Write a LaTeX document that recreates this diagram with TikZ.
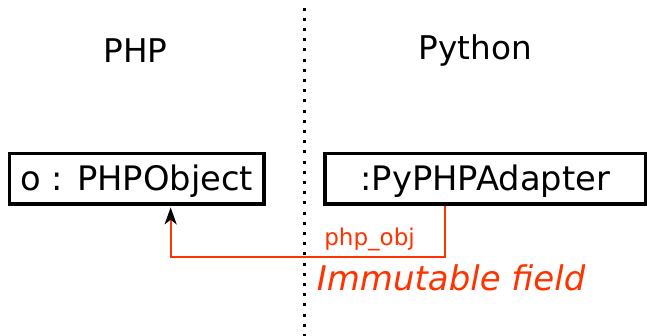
\documentclass[tikz,border=0pt]{standalone}
\usepackage{fontspec}
\setmainfont{DejaVu Sans}
\usetikzlibrary{arrows.meta}
\definecolor{fieldred}{RGB}{255,51,0}
\tikzset{
  objbox/.style={draw=black, line width=2.6pt, inner sep=0pt, minimum height=37.9pt,
    font=\fontsize{25.3}{30}\selectfont, text height=21.5pt, text depth=3.4pt},
  title/.style={font=\fontsize{24.5}{30}\selectfont, anchor=base, inner sep=0pt},
  sep/.style={line width=2.25pt, dash pattern=on 2.25pt off 5.4pt},
  conn/.style={draw=fieldred, line width=1.6pt,
    -{Stealth[black, length=12.75pt, width=9pt, inset=3.5pt]}},
  fieldlbl/.style={text=fieldred, inner sep=0pt, anchor=base west},
}
\begin{document}
\begin{tikzpicture}[x=0.75pt, y=-0.75pt]
\useasboundingbox (0,0) rectangle (647,336);
\coordinate (septop) at (304.3,7.5);
\coordinate (sepbot) at (304.3,336);
\draw[sep] (septop) -- (sepbot);
\node[title] (php) at (135.5,62) {PHP};
\node[title] (python) at (475.5,59) {Python};
\node[objbox, minimum width=191pt] (obj) at (136.65,178.75) {o : PHPObject};
\node[objbox, minimum width=240.4pt] (ad) at (485.25,178.75) {:PyPHPAdapter};
\draw[conn, shorten >=1.2pt] ([xshift=-30.4pt]ad.south) -- ++(0,51) -| ([xshift=25.5pt]obj.south);
\node[fieldlbl, font=\fontsize{17.3}{20}\selectfont] (fname) at (324,245.5) {php\_obj};
\node[fieldlbl, font=\fontsize{25.5}{30}\itshape] (imm) at (316.5,290) {Immutable field};
\end{tikzpicture}
\end{document}
